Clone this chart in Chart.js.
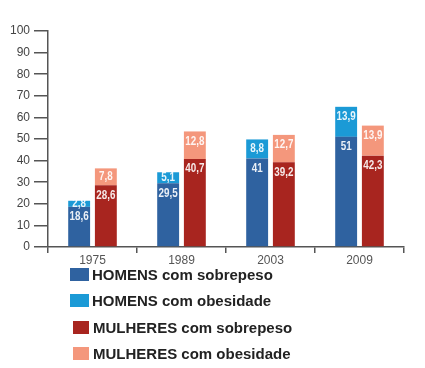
<!DOCTYPE html>
<html>
<head>
<meta charset="utf-8">
<script src="https://cdn.jsdelivr.net/npm/chart.js@4.4.1/dist/chart.umd.min.js"></script>
<style>
  html, body { margin: 0; padding: 0; background: #fff; }
  #wrap { position: relative; width: 425px; height: 368px; overflow: hidden; }
  #chart { position: absolute; left: 0; top: 0; }
  #legend { position: absolute; left: 0; top: 266px; width: 425px; }
  .item { position: absolute; font: bold 15px "Liberation Sans", Arial, sans-serif; color: #222; white-space: nowrap; }
  .box { position: absolute; }
</style>
</head>
<body>
<div id="wrap">
  <canvas id="chart" width="425" height="268"></canvas>
  <div id="legend"></div>
</div>
<script>
// Years on the x axis
const years = ["1975", "1989", "2003", "2009"]

// Percent values per group
const homensSobrepeso = [18.6, 29.5, 41, 51]
const homensObesidade = [2.8, 5.1, 8.8, 13.9]
const mulheresSobrepeso = [28.6, 40.7, 39.2, 42.3]
const mulheresObesidade = [7.8, 12.8, 12.7, 13.9]

const yTicks = [0, 10, 20, 30, 40, 50, 60, 70, 80, 90, 100]

const seriesNames = [
  "HOMENS com sobrepeso",
  "HOMENS com obesidade",
  "MULHERES com sobrepeso",
  "MULHERES com obesidade",
]
const seriesColors = ["#2f62a0", "#1b9ad6", "#a8251f", "#f4977c"]

const axisColor = "#555"

// Draws the value inside each bar segment, with a decimal comma
const segmentLabels = {
  id: "segmentLabels",
  afterDatasetsDraw(chart) {
    const ctx = chart.ctx
    ctx.save()
    ctx.font = "bold 12px 'Liberation Sans', Arial, sans-serif"
    ctx.fillStyle = "rgba(255,255,255,0.9)"
    ctx.textAlign = "center"
    ctx.textBaseline = "middle"
    chart.data.datasets.forEach((ds, i) => {
      const meta = chart.getDatasetMeta(i)
      meta.data.forEach((bar, j) => {
        const top = bar.y
        const bottom = bar.base
        const y = Math.min((top + bottom) / 2, top + 10)
        // narrow the text a little, like the condensed face of the original
        ctx.save()
        ctx.translate(bar.x, y)
        ctx.scale(0.82, 1)
        ctx.fillText(String(ds.data[j]).replace(".", ","), 0, 0)
        ctx.restore()
      })
    })
    ctx.restore()
  },
}

const chart = new Chart(document.getElementById("chart"), {
  type: "bar",
  data: {
    labels: years,
    datasets: [
      { label: seriesNames[0], data: homensSobrepeso, backgroundColor: seriesColors[0], stack: "homens" },
      { label: seriesNames[1], data: homensObesidade, backgroundColor: seriesColors[1], stack: "homens" },
      { label: seriesNames[2], data: mulheresSobrepeso, backgroundColor: seriesColors[2], stack: "mulheres" },
      { label: seriesNames[3], data: mulheresObesidade, backgroundColor: seriesColors[3], stack: "mulheres" },
    ],
  },
  options: {
    responsive: false,
    animation: false,
    layout: { padding: { top: 31, right: 21, left: 0, bottom: 0 } },
    datasets: {
      bar: { categoryPercentage: 0.6, barPercentage: 0.82 },
    },
    plugins: {
      legend: { display: false },
      tooltip: { enabled: false },
    },
    scales: {
      x: {
        stacked: true,
        afterFit: (scale) => { scale.height = 21 },
        grid: {
          offset: true,
          drawOnChartArea: false,
          drawTicks: true,
          tickLength: 6,
          color: axisColor,
          lineWidth: 1.5,
        },
        border: { display: true, color: axisColor, width: 1.5 },
        ticks: {
          padding: 0,
          color: "#555",
          font: { family: "'Liberation Sans', Arial, sans-serif", size: 12 },
        },
      },
      y: {
        stacked: true,
        min: 0,
        max: 100,
        afterFit: (scale) => { scale.width = 48 },
        afterBuildTicks: (scale) => { scale.ticks = yTicks.map((v) => ({ value: v })) },
        grid: {
          drawOnChartArea: false,
          drawTicks: true,
          tickLength: 14,
          color: axisColor,
          lineWidth: 1.5,
        },
        border: { display: true, color: axisColor, width: 1.5 },
        ticks: {
          padding: 4,
          color: "#444",
          font: { family: "'Liberation Sans', Arial, sans-serif", size: 12 },
        },
      },
    },
  },
  plugins: [segmentLabels],
})

// Vertical legend under the chart, built from the datasets
const legend = document.getElementById("legend")
chart.data.datasets.forEach((ds, i) => {
  const rowTop = [2, 28, 55, 81][i]
  const women = i >= 2
  const box = document.createElement("div")
  box.className = "box"
  box.style.left = (women ? 73 : 70) + "px"
  box.style.top = rowTop + "px"
  box.style.width = (women ? 16 : 19) + "px"
  box.style.height = "13px"
  box.style.background = ds.backgroundColor
  legend.appendChild(box)
  const text = document.createElement("div")
  text.className = "item"
  text.style.left = (women ? 93 : 92) + "px"
  text.style.top = (rowTop - 2) + "px"
  text.textContent = ds.label
  legend.appendChild(text)
})
</script>
</body>
</html>
